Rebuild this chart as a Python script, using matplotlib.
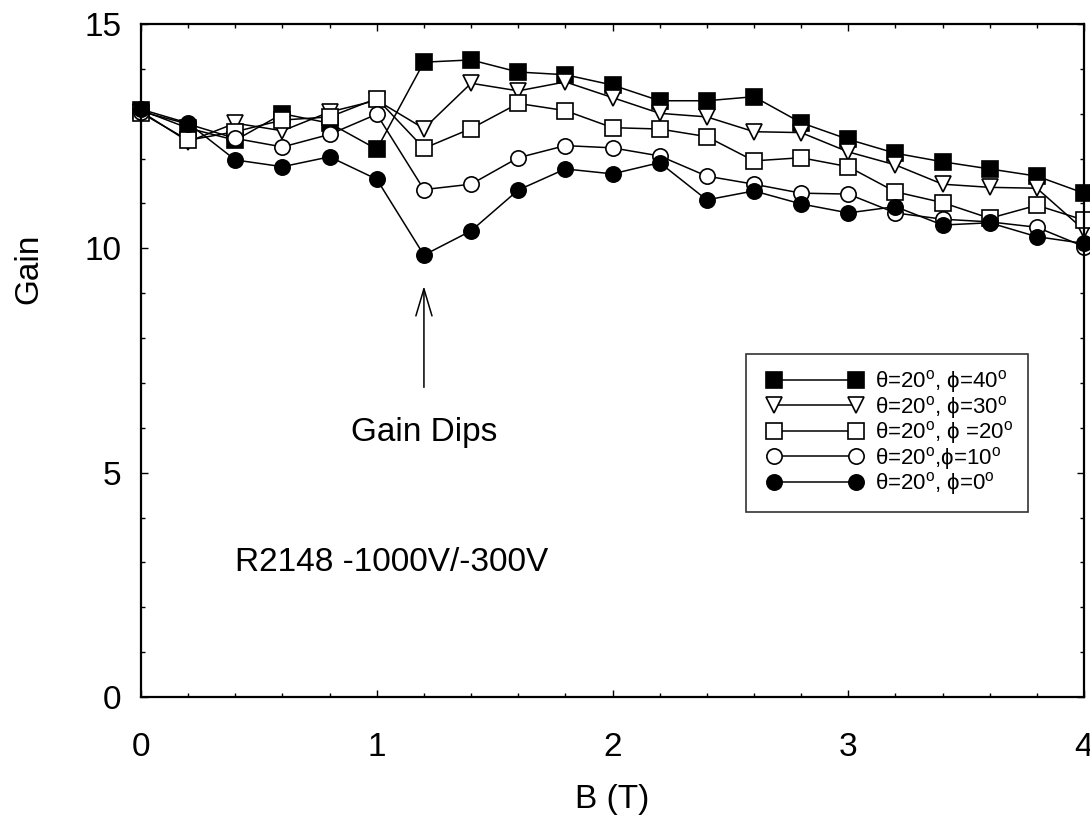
import numpy as np
import matplotlib
matplotlib.use("Agg")
import matplotlib.pyplot as plt
from matplotlib.ticker import MultipleLocator
from matplotlib.lines import Line2D
from matplotlib.legend_handler import HandlerLine2D

plt.rcParams['font.family'] = ['Liberation Sans', 'DejaVu Sans']
plt.rcParams['mathtext.fontset'] = 'custom'
plt.rcParams['mathtext.rm'] = 'Liberation Sans'
plt.rcParams['mathtext.it'] = 'Liberation Sans'

# magnetic field (T)
b_field = [0.0, 0.2, 0.4, 0.6, 0.8, 1.0, 1.2, 1.4, 1.6, 1.8, 2.0,
           2.2, 2.4, 2.6, 2.8, 3.0, 3.2, 3.4, 3.6, 3.8, 4.0]

gain_phi40 = [13.08, 12.68, 12.41, 13.0, 12.79, 12.21, 14.15, 14.2, 13.93, 13.87, 13.64,
              13.29, 13.29, 13.38, 12.8, 12.43, 12.12, 11.93, 11.77, 11.61, 11.23]
gain_phi30 = [13.05, 12.38, 12.79, 12.62, 13.04, 13.3, 12.67, 13.68, 13.51, 13.71, 13.36,
              13.01, 12.93, 12.6, 12.58, 12.15, 11.86, 11.43, 11.36, 11.34, 10.41]
gain_phi20 = [13.02, 12.41, 12.6, 12.86, 12.93, 13.34, 12.23, 12.67, 13.23, 13.07, 12.69,
              12.66, 12.49, 11.95, 12.02, 11.82, 11.26, 11.02, 10.67, 10.96, 10.63]
gain_phi10 = [13.05, 12.77, 12.45, 12.26, 12.54, 12.99, 11.31, 11.43, 12.02, 12.29, 12.24,
              12.06, 11.61, 11.43, 11.23, 11.21, 10.79, 10.65, 10.59, 10.47, 10.04]
gain_phi0 = [13.1, 12.79, 11.97, 11.82, 12.04, 11.54, 9.85, 10.39, 11.3, 11.77, 11.66,
             11.91, 11.08, 11.28, 10.99, 10.79, 10.93, 10.52, 10.57, 10.26, 10.11]

labels = [r'θ=20$^{\mathrm{o}}$, ϕ=40$^{\mathrm{o}}$',
          r'θ=20$^{\mathrm{o}}$, ϕ=30$^{\mathrm{o}}$',
          r'θ=20$^{\mathrm{o}}$, ϕ =20$^{\mathrm{o}}$',
          r'θ=20$^{\mathrm{o}}$,ϕ=10$^{\mathrm{o}}$',
          r'θ=20$^{\mathrm{o}}$, ϕ=0$^{\mathrm{o}}$']

fig = plt.figure(figsize=(10.9, 8.23), dpi=100)
ax = fig.add_axes([0.1294, 0.1531, 0.8651, 0.8177])

series = [gain_phi40, gain_phi30, gain_phi20, gain_phi10, gain_phi0]
markers = ['s', 'v', 's', 'o', 'o']
faces = ['black', 'white', 'white', 'white', 'black']
for g, m, fc, lab in zip(series, markers, faces, labels):
    ax.plot(b_field, g, color='black', lw=1.1, marker=m, ms=11,
            mfc=fc, mec='black', mew=1.2, label=lab, clip_on=False)

ax.set_xlim(0, 4)
ax.set_ylim(0, 15)
ax.xaxis.set_major_locator(MultipleLocator(1))
ax.xaxis.set_minor_locator(MultipleLocator(0.2))
ax.yaxis.set_major_locator(MultipleLocator(5))
ax.yaxis.set_minor_locator(MultipleLocator(1))
ax.tick_params(which='both', direction='in', top=True, right=True, width=1)
ax.tick_params(which='major', length=5, labelsize=24)
ax.tick_params(which='minor', length=3)
ax.tick_params(axis='x', pad=25)
ax.tick_params(axis='y', pad=14)
for s in ax.spines.values():
    s.set_linewidth(1.6)

ax.set_xlabel('B (T)', fontsize=24, labelpad=15)
ax.set_ylabel('Gain', fontsize=24)
ax.yaxis.set_label_coords(-0.103, 0.637)

ax.annotate('', xy=(1.2, 9.22), xytext=(1.2, 6.84),
            arrowprops=dict(arrowstyle='->,head_length=1.95,head_width=0.58',
                            color='black', lw=1.1))
ax.text(1.2, 5.9, 'Gain Dips', fontsize=24, ha='center', va='center')
ax.text(0.4, 3.0, 'R2148 -1000V/-300V', fontsize=24, ha='left', va='center')

leg = ax.legend(loc='upper left', bbox_to_anchor=(0.6416, 0.5097), borderaxespad=0,
                fontsize=16, handlelength=4.93, numpoints=2, labelspacing=-0.07,
                fancybox=False, frameon=True, handletextpad=0.24, borderpad=0.65,
                handler_map={Line2D: HandlerLine2D(marker_pad=0.62)})
leg.get_frame().set_edgecolor('black')
leg.get_frame().set_linewidth(1.2)

plt.savefig('out.png', dpi=100)
